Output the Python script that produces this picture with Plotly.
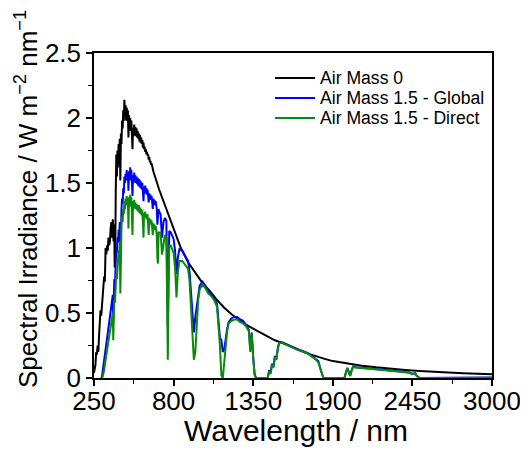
import plotly.graph_objects as go

# ---------------- data ----------------
wl_am0 = [250, 255, 260, 265, 270, 275, 280, 285, 290, 295, 300, 305, 310, 315, 320, 325,
          330, 335, 340, 345, 350, 355, 360, 365, 370, 375, 380, 385, 390, 393, 397,
          400, 404, 408, 412, 416, 420, 424, 428, 432, 436, 440, 444, 448, 452, 456, 460,
          464, 468, 472, 476, 480, 484, 488, 492, 496, 500, 504, 508, 512, 516, 520, 524,
          528, 532, 536, 540, 544, 548, 552, 556, 560, 564, 568, 572, 576, 580, 584, 588,
          592, 596, 600, 604, 608, 612, 616, 620, 624, 628, 632, 636, 640, 644, 648,
          660, 680, 700, 750, 800, 850, 900, 950, 1000, 1050, 1100, 1150,
          1200, 1250, 1300, 1350, 1400, 1450, 1500, 1550, 1600, 1650, 1700, 1750, 1800,
          1850, 1900, 2000, 2100, 2200, 2300, 2400, 2500, 2600, 2700, 2800, 2900, 3000]
am0 = [0.04, 0.07, 0.10, 0.20, 0.18, 0.25, 0.20, 0.33, 0.45, 0.52, 0.48, 0.58, 0.62, 0.72, 0.78, 0.74,
       1.00, 0.95, 1.02, 0.98, 1.08, 1.02, 1.05, 1.15, 1.20, 1.08, 1.22, 1.05, 1.18, 0.85, 1.00,
       1.40, 1.72, 1.55, 1.75, 1.62, 1.80, 1.70, 1.84, 1.52, 1.88, 1.80, 1.98, 1.92, 2.06, 1.98, 2.14,
       2.02, 2.10, 1.98, 2.08, 2.00, 2.06, 1.85, 2.02, 1.94, 2.00, 1.90, 1.98, 1.88, 1.76, 1.92, 1.86,
       1.95, 1.87, 1.93, 1.86, 1.92, 1.85, 1.90, 1.84, 1.88, 1.82, 1.87, 1.81, 1.85, 1.80, 1.83, 1.77,
       1.81, 1.76, 1.78, 1.74, 1.76, 1.72, 1.74, 1.71, 1.72, 1.68, 1.70, 1.66, 1.67, 1.64, 1.65,
       1.59, 1.52, 1.45, 1.30, 1.15, 1.00, 0.89, 0.81, 0.73, 0.67, 0.60, 0.54,
       0.49, 0.45, 0.41, 0.38, 0.35, 0.32, 0.29, 0.27, 0.245, 0.22, 0.20, 0.18, 0.16,
       0.145, 0.13, 0.112, 0.095, 0.082, 0.07, 0.062, 0.054, 0.047, 0.041, 0.036, 0.032, 0.028]

wl_glob = [295, 300, 305, 310, 320, 330, 340, 345, 350, 360, 370, 380, 383, 386, 390, 395,
           400, 404, 408, 412, 416, 420, 424, 428, 432, 436, 440, 444, 448, 452, 456, 460,
           464, 468, 472, 476, 480, 484, 488, 492, 496, 500, 504, 508, 512, 516, 520, 524,
           528, 532, 536, 540, 544, 548, 552, 556, 560, 564, 568, 572, 576, 580, 584, 588,
           592, 596, 600, 604, 608, 612, 616, 620, 624, 628, 632, 636, 640, 644, 648, 652,
           656, 660, 664, 668, 672, 676, 680, 684, 688, 692, 696, 700, 710, 720, 730, 740, 750,
           760, 765, 770, 780, 790, 800, 810, 820, 830, 840, 860, 880, 900, 910, 920, 930,
           940, 950, 960, 970, 980, 1000, 1020, 1040, 1060, 1080, 1100, 1110, 1120, 1130,
           1140, 1150, 1160, 1170, 1180, 1200, 1220, 1240, 1260, 1280, 1300, 1320, 1330,
           1340, 1350, 1360, 1370, 1420, 1450, 1460, 1470, 1480, 1490, 1500, 1510, 1520,
           1530, 1550, 1580, 1600, 1630, 1660, 1700, 1730, 1760, 1780, 1800, 1820, 1835,
           1980, 1990, 2000, 2010, 2020, 2030, 2040, 2060, 2100, 2150, 2200, 2250, 2300,
           2350, 2400, 2430, 2450, 2470, 2480, 2500, 2700, 2900, 3000]
am15g = [0.0, 0.0, 0.01, 0.05, 0.14, 0.22, 0.30, 0.33, 0.40, 0.46, 0.56, 0.64, 0.45, 0.66, 0.76, 0.72,
         0.92, 1.00, 0.96, 1.08, 1.04, 1.14, 1.10, 1.20, 0.88, 1.25, 1.30, 1.38, 1.34, 1.46, 1.42, 1.55,
         1.50, 1.57, 1.52, 1.60, 1.54, 1.58, 1.44, 1.59, 1.52, 1.62, 1.55, 1.60, 1.52, 1.40, 1.56, 1.50,
         1.58, 1.51, 1.56, 1.50, 1.55, 1.49, 1.54, 1.48, 1.53, 1.47, 1.52, 1.46, 1.51, 1.45, 1.50, 1.40,
         1.36, 1.47, 1.43, 1.48, 1.42, 1.46, 1.41, 1.45, 1.39, 1.35, 1.42, 1.38, 1.41, 1.37, 1.40, 1.33,
         1.30, 1.38, 1.34, 1.37, 1.33, 1.36, 1.32, 1.30, 1.18, 1.22, 1.30, 1.28, 1.26, 1.08, 1.20, 1.23, 1.21,
         0.40, 0.85, 1.13, 1.12, 1.09, 1.07, 0.98, 0.80, 0.93, 0.99, 0.98, 0.94, 0.90, 0.82, 0.66, 0.48,
         0.35, 0.47, 0.55, 0.64, 0.71, 0.74, 0.71, 0.67, 0.64, 0.61, 0.57, 0.46, 0.31, 0.29,
         0.20, 0.22, 0.31, 0.38, 0.43, 0.46, 0.47, 0.47, 0.45, 0.44, 0.41, 0.37, 0.22,
         0.35, 0.16, 0.03, 0.0, 0.0, 0.0, 0.06, 0.04, 0.11, 0.09, 0.17, 0.15, 0.23,
         0.275, 0.275, 0.26, 0.245, 0.235, 0.22, 0.205, 0.19, 0.165, 0.15, 0.13, 0.05, 0.0,
         0.0, 0.04, 0.078, 0.05, 0.02, 0.06, 0.088, 0.082, 0.077, 0.072, 0.067, 0.062, 0.057,
         0.052, 0.047, 0.042, 0.032, 0.037, 0.016, 0.0, 0.002, 0.004, 0.003]

wl_dir = [300, 305, 310, 320, 330, 340, 350, 360, 370, 375, 380, 383, 386, 390, 395,
          400, 404, 408, 412, 416, 420, 424, 428, 432, 436, 440, 444, 448, 452, 456, 460,
          464, 468, 472, 476, 480, 484, 488, 492, 496, 500, 504, 508, 512, 516, 520, 524,
          528, 532, 536, 540, 544, 548, 552, 556, 560, 564, 568, 572, 576, 580, 584, 588,
          592, 596, 600, 604, 608, 612, 616, 620, 624, 628, 632, 636, 640, 644, 648, 652,
          656, 660, 664, 668, 672, 676, 680, 684, 688, 692, 696, 700, 710, 720, 730, 740, 750,
          760, 765, 770, 780, 790, 800, 810, 820, 830, 840, 860, 880, 900, 910, 920, 930,
          940, 950, 960, 970, 980, 1000, 1020, 1040, 1060, 1080, 1100, 1110, 1120, 1130,
          1140, 1150, 1160, 1170, 1180, 1200, 1220, 1240, 1260, 1280, 1300, 1320, 1330,
          1340, 1350, 1360, 1370, 1420, 1450, 1460, 1470, 1480, 1490, 1500, 1510, 1520,
          1530, 1550, 1580, 1600, 1630, 1660, 1700, 1730, 1760, 1780, 1800, 1820, 1835,
          1980, 1990, 2000, 2010, 2020, 2030, 2040, 2060, 2100, 2150, 2200, 2250, 2300,
          2350, 2400, 2430, 2450, 2470, 2480, 2500, 2700, 2900, 3000]
am15d = [0.0, 0.0, 0.01, 0.06, 0.14, 0.22, 0.30, 0.35, 0.42, 0.48, 0.50, 0.29, 0.52, 0.60, 0.58,
         0.72, 0.80, 0.76, 0.88, 0.85, 0.98, 0.95, 1.05, 0.65, 1.10, 1.18, 1.24, 1.20, 1.30, 1.26, 1.36,
         1.30, 1.38, 1.33, 1.40, 1.35, 1.38, 1.15, 1.39, 1.32, 1.41, 1.34, 1.39, 1.30, 1.10, 1.36, 1.30,
         1.37, 1.31, 1.35, 1.30, 1.34, 1.29, 1.33, 1.28, 1.33, 1.27, 1.31, 1.26, 1.30, 1.25, 1.29, 1.12,
         1.08, 1.27, 1.24, 1.28, 1.23, 1.26, 1.22, 1.26, 1.20, 1.10, 1.23, 1.19, 1.22, 1.18, 1.21, 1.14,
         1.10, 1.19, 1.15, 1.18, 1.14, 1.17, 1.13, 1.10, 0.92, 0.88, 1.12, 1.12, 1.12, 0.95, 1.05, 1.10, 1.08,
         0.14, 0.70, 1.02, 1.02, 0.98, 0.96, 0.85, 0.62, 0.82, 0.90, 0.90, 0.87, 0.84, 0.75, 0.55, 0.30,
         0.14, 0.20, 0.45, 0.60, 0.68, 0.72, 0.69, 0.65, 0.63, 0.60, 0.55, 0.42, 0.25, 0.02,
         0.0, 0.12, 0.28, 0.36, 0.42, 0.44, 0.45, 0.45, 0.43, 0.42, 0.40, 0.36, 0.20,
         0.34, 0.15, 0.02, 0.0, 0.0, 0.0, 0.05, 0.03, 0.10, 0.08, 0.16, 0.14, 0.22,
         0.27, 0.27, 0.255, 0.24, 0.23, 0.215, 0.20, 0.185, 0.16, 0.145, 0.12, 0.04, 0.0,
         0.0, 0.035, 0.075, 0.045, 0.015, 0.055, 0.085, 0.08, 0.075, 0.07, 0.065, 0.06, 0.055,
         0.05, 0.045, 0.04, 0.03, 0.035, 0.015, 0.0, 0.0, 0.003, 0.002]

x_ticks = [250, 800, 1350, 1900, 2450, 3000]
y_ticks = [0, 0.5, 1, 1.5, 2, 2.5]
series_names = ["Air Mass 0", "Air Mass 1.5 - Global", "Air Mass 1.5 - Direct"]
series_colors = ["#000000", "#0000FF", "#0A8A0A"]

FONT = "Arial, Liberation Sans, sans-serif"

fig = go.Figure()
for wl, vals, name, col in zip([wl_am0, wl_glob, wl_dir], [am0, am15g, am15d],
                               series_names, series_colors):
    fig.add_trace(go.Scatter(x=wl, y=vals, mode="lines", name=name,
                             line=dict(color=col, width=2), showlegend=False))

axis_common = dict(showline=True, linecolor="black", linewidth=1.5, mirror=True,
                   ticks="outside", ticklen=6, tickwidth=1.5, tickcolor="black",
                   showgrid=False, zeroline=False, automargin=False,
                   tickfont=dict(family=FONT, size=26, color="black"))

fig.update_xaxes(range=[250, 3000], tickvals=x_ticks, ticklabelstandoff=-7,
                 minor=dict(ticks="outside", ticklen=4, tickwidth=1.2, tickcolor="black", dtick=275,
                            tick0=250, showgrid=False),
                 **axis_common)
fig.update_yaxes(range=[0, 2.5], tickvals=y_ticks,
                 minor=dict(ticks="outside", ticklen=4, tickwidth=1.2, tickcolor="black", dtick=0.25,
                            tick0=0, showgrid=False),
                 **axis_common)

# compact legend drawn as short line samples + labels (rows 20 px apart, like the reference)
legend_rows_y = [0.923, 0.8615, 0.80]
shapes = []
annotations = []
for name, col, yy in zip(series_names, series_colors, legend_rows_y):
    shapes.append(dict(type="line", xref="paper", yref="paper", x0=0.4548, x1=0.5553,
                       y0=yy, y1=yy, line=dict(color=col, width=2)))
    annotations.append(dict(text=name, xref="paper", yref="paper", x=0.5628, y=yy,
                            xanchor="left", yanchor="middle", showarrow=False,
                            font=dict(family=FONT, size=17.6, color="black")))

annotations += [
    dict(text="Wavelength / nm", xref="paper", yref="paper", x=0.5075, y=-0.16,
         xanchor="center", yanchor="middle", showarrow=False,
         font=dict(family=FONT, size=30, color="black")),
    dict(text="Spectral Irradiance / W m<sup>\u22122</sup> nm<sup>\u22121</sup>",
         xref="paper", yref="paper", x=-0.168, y=0.551, textangle=-90,
         xanchor="center", yanchor="middle", showarrow=False,
         font=dict(family=FONT, size=26, color="black")),
]

fig.update_layout(
    width=520, height=443,
    margin=dict(l=86, r=36, t=45, b=73, autoexpand=False),
    plot_bgcolor="white", paper_bgcolor="white",
    font=dict(family=FONT, color="black"),
    shapes=shapes,
    annotations=annotations,
)

fig.write_html("out.html")
